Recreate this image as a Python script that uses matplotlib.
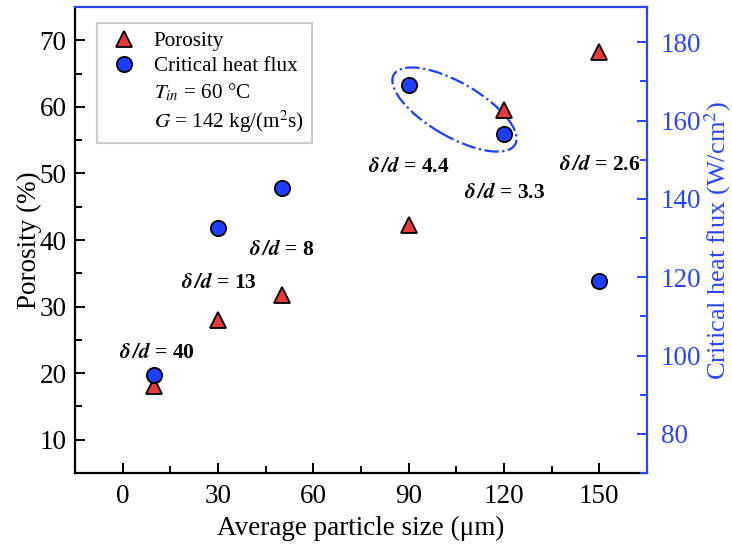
import matplotlib
matplotlib.use("Agg")
import matplotlib.pyplot as plt
import matplotlib.transforms as mtransforms
from matplotlib.patches import Ellipse
from matplotlib.lines import Line2D

plt.rcParams['font.family'] = ['Liberation Serif', 'DejaVu Serif']
plt.rcParams['mathtext.fontset'] = 'stix'

# data
particle_size = [10, 30, 50, 90, 120, 150]
porosity = [18.1, 28.0, 31.8, 42.2, 59.6, 68.3]
chf = [95.0, 132.5, 142.7, 169.2, 156.5, 119.0]
ratio_labels = ['40', '13', '8', '4.4', '3.3', '2.6']
# label centres (x in um, y in porosity units)
label_x = [10.8, 30.3, 50.0, 90.0, 120.1, 150.0]
label_y = [23.1, 33.6, 38.5, 51.0, 47.1, 51.3]

RED = '#e8393d'
BLUE = '#1f3dff'
AXBLUE = '#2b45ff'
FS = 19.5

fig = plt.figure(figsize=(7.32, 5.52), dpi=100)
ax = fig.add_axes([0.1025, 0.1431, 0.7814, 0.8442])
ax2 = ax.twinx()

ax.plot(particle_size, porosity, linestyle='none', marker='^', ms=11,
        mfc=RED, mec='black', mew=1.3)
ax2.plot(particle_size, chf, linestyle='none', marker='o', ms=11,
         mfc=BLUE, mec='black', mew=1.3)

ax.set_xlim(-15, 165)
ax.set_ylim(5, 75)
ax2.set_ylim(70, 189)

ax.set_xticks([0, 30, 60, 90, 120, 150])
ax.set_xticks(range(-15, 166, 15), minor=True)
ax.set_yticks(range(10, 71, 10))
ax.set_yticks(range(5, 76, 5), minor=True)
ax2.set_yticks(range(80, 181, 20))
ax2.set_yticks(range(70, 190, 10), minor=True)

ax.tick_params(axis='both', which='both', direction='in', width=1.4, labelsize=FS)
ax.tick_params(axis='both', which='major', length=7)
ax.tick_params(axis='both', which='minor', length=5)
ax.tick_params(axis='x', pad=8)
ax.tick_params(axis='y', pad=6)
ax2.tick_params(axis='y', which='both', direction='in', width=1.4, labelsize=FS,
                colors=AXBLUE, pad=10)
ax2.tick_params(axis='y', which='major', length=7)
ax2.tick_params(axis='y', which='minor', length=5)

for s in ['left', 'bottom']:
    ax.spines[s].set_linewidth(1.6)
ax.spines['top'].set_visible(False)
ax.spines['right'].set_visible(False)
ax2.spines['left'].set_visible(False)
ax2.spines['bottom'].set_visible(False)
for s in ['right', 'top']:
    ax2.spines[s].set_color(AXBLUE)
    ax2.spines[s].set_linewidth(1.6)

ax.set_xlabel('Average particle size (μm)', fontsize=FS, labelpad=5)
ax.set_ylabel('Porosity (%)', fontsize=FS, labelpad=-2)
ax2.set_ylabel('Critical heat flux (W/cm$^2$)', fontsize=19, color=AXBLUE, labelpad=1)

for x, y, r in zip(label_x, label_y, ratio_labels):
    ax.text(x, y, r'$\mathbfit{\delta\,/d}$ = ' + r, fontsize=15.5, fontweight='bold',
            ha='center', va='center')

# dash-dot ellipse round the two points at 90 and 120 um
ell_trans = fig.dpi_scale_trans + mtransforms.ScaledTranslation(104.4, 59.6, ax.transData)
ell = Ellipse((0, 0), width=1.40, height=0.54, angle=-30, transform=ell_trans,
              fill=False, edgecolor=BLUE, linestyle='-.', linewidth=1.6)
ax.add_artist(ell)

handles = [
    Line2D([], [], linestyle='none', marker='^', ms=11, mfc=RED, mec='black', mew=1.3),
    Line2D([], [], linestyle='none', marker='o', ms=11, mfc=BLUE, mec='black', mew=1.3),
    Line2D([], [], linestyle='none'),
    Line2D([], [], linestyle='none'),
]
labels = ['Porosity', 'Critical heat flux', r'$T_{in}$ = 60 °C', r'$G$ = 142 kg/(m$^2$s)']
leg = ax2.legend(handles, labels, loc='upper left', bbox_to_anchor=(0.038, 0.966),
                 borderaxespad=0, fontsize=15.2, frameon=True, fancybox=False,
                 edgecolor='#c4c4c4', handlelength=1.8, handletextpad=0.5,
                 borderpad=0.4, labelspacing=0.25)
leg.get_frame().set_linewidth(1.5)

fig.savefig('out.png', dpi=100)
